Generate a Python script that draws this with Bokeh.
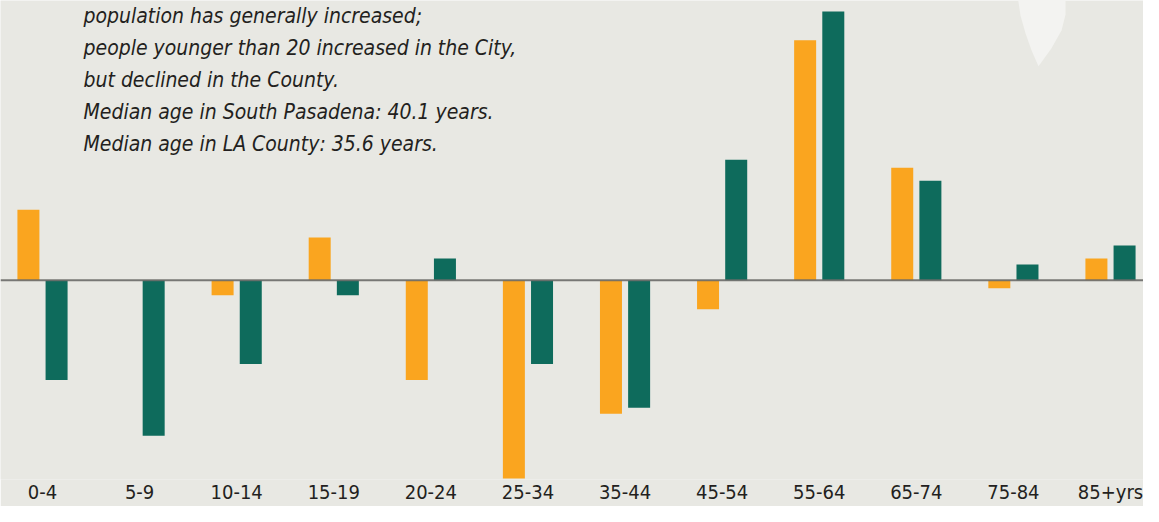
import numpy as np
from bokeh.plotting import figure
from bokeh.models import ColumnDataSource, FixedTicker, Span, Label, Range1d
from bokeh.embed import file_html
from bokeh.resources import INLINE

# ---- data (percent change by age group) ----
age_groups = ["0-4", "5-9", "10-14", "15-19", "20-24", "25-34", "35-44",
              "45-54", "55-64", "65-74", "75-84", "85+yrs"]
city_change = [7.1, 0.0, -1.5, 4.3, -10.0, -19.9, -13.4, -2.9, 24.1, 11.3, -0.8, 2.2]
county_change = [-10.0, -15.6, -8.4, -1.5, 2.2, -8.4, -12.8, 12.1, 27.0, 10.0, 1.6, 3.5]
note_lines = [
    "population has generally increased;",
    "people younger than 20 increased in the City,",
    "but declined in the County.",
    "Median age in South Pasadena: 40.1 years.",
    "Median age in LA County: 35.6 years.",
]

BG = "#E8E8E3"
ORANGE = "#FAA51F"
GREEN = "#0E6B5C"
FONT = "DejaVu Sans Condensed"

W, H = 1143, 506
BOTTOM = 25
frame_h = H - BOTTOM
px_per_x = 97.09
px_per_y = 10.0
x_start = -42.0 / px_per_x
x_end = x_start + W / px_per_x
y_end = 281 / px_per_y
y_start = y_end - frame_h / px_per_y


def dx(px):
    return x_start + px / px_per_x


def dy(py):
    return y_end - py / px_per_y


idx = np.arange(len(age_groups))
src_city = ColumnDataSource(dict(x=idx - 0.145, top=city_change))
src_county = ColumnDataSource(dict(x=idx + 0.145, top=county_change))

p = figure(width=W, height=H, output_backend="svg", toolbar_location=None,
           x_range=Range1d(x_start, x_end), y_range=Range1d(y_start, y_end),
           min_border_left=0, min_border_right=0, min_border_top=0,
           min_border_bottom=BOTTOM)
p.background_fill_color = BG
p.border_fill_color = BG
p.outline_line_color = None
p.grid.visible = False
p.yaxis.visible = False

# decorative leaf shape (top right)
leaf_x = [1017, 1020, 1025, 1031, 1038, 1051, 1061, 1065, 1065]
leaf_y = [-5, 15, 33, 50, 66, 48, 30, 14, -5]
p.patch([dx(v) for v in leaf_x], [dy(v) for v in leaf_y],
        fill_color="#F3F3F1", line_color=None)

p.vbar(x="x", top="top", bottom=0, width=0.2266, source=src_city,
       fill_color=ORANGE, line_color=None)
p.vbar(x="x", top="top", bottom=0, width=0.2266, source=src_county,
       fill_color=GREEN, line_color=None)

p.add_layout(Span(location=0, dimension="width", line_color="#6A6A68",
                  line_width=2, line_alpha=0.9))

ax = p.xaxis[0]
ax.ticker = FixedTicker(ticks=list(idx))
ax.major_label_overrides = {int(i): lab for i, lab in zip(idx, age_groups)}
ax.axis_line_color = None
ax.major_tick_line_color = None
ax.minor_tick_line_color = None
ax.major_tick_in = 0
ax.major_tick_out = 0
ax.major_label_text_font = FONT
ax.major_label_text_font_size = "20px"
ax.major_label_text_color = "#231F20"
ax.major_label_standoff = 0

# explanatory note
for k, line in enumerate(note_lines):
    p.add_layout(Label(x=dx(83), y=dy(16 + 32 * k), text=line,
                       text_font=FONT, text_font_style="italic",
                       text_font_size="21px", text_color="#231F20",
                       text_baseline="alphabetic"))

open("out.html", "w").write(file_html(p, INLINE))
